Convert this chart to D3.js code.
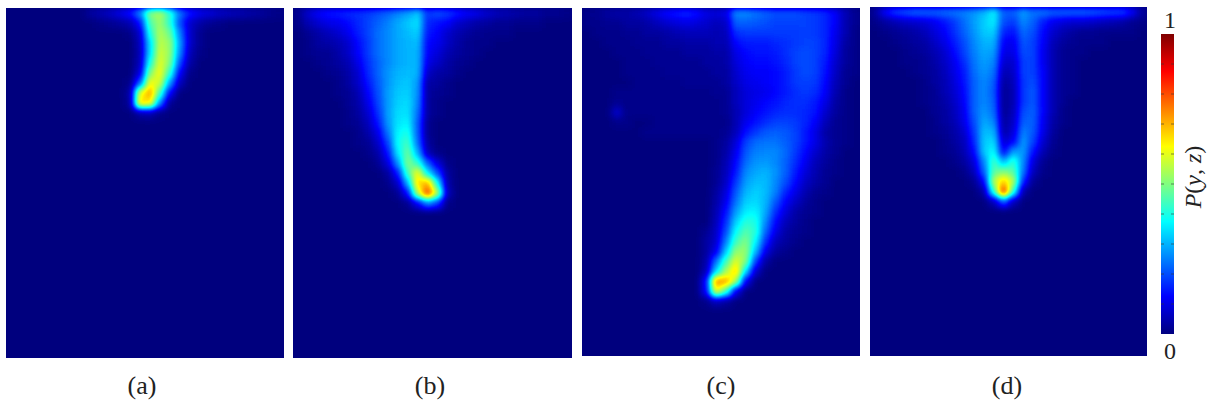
<!DOCTYPE html>
<html>
<head>
<meta charset="utf-8">
<script src="https://cdn.jsdelivr.net/npm/d3@7"></script>
<style>
  html, body { margin: 0; background: #fff; }
  svg { display: block; }
  text { font-family: "Liberation Serif", serif; fill: #222; }
</style>
</head>
<body>
<div id="chart"></div>
<script>
// P(y,z) x 100, read per 10px cell from the picture. rows run top down, missing trailing cells/rows are 0
const panelA = [
  [0,0,0,0,0,0,0,0,3,5,7,10,14,26,50,54,42,24,15,11,9,7,6,5,4,3,2,1],
  [0,0,0,0,0,0,0,0,0,1,2,3,5,14,45,53,42,20,8,4,2,1],
  [0,0,0,0,0,0,0,0,0,0,0,0,1,8,40,55,48,25,8,2],
  [0,0,0,0,0,0,0,0,0,0,0,0,0,6,34,56,52,28,8,2],
  [0,0,0,0,0,0,0,0,0,0,0,0,0,5,34,58,52,26,6,1],
  [0,0,0,0,0,0,0,0,0,0,0,0,0,6,40,60,50,20,4],
  [0,0,0,0,0,0,0,0,0,0,0,0,0,9,50,62,42,12,1],
  [0,0,0,0,0,0,0,0,0,0,0,0,1,22,62,58,28,6],
  [0,0,0,0,0,0,0,0,0,0,0,0,4,60,72,44,12],
  [0,0,0,0,0,0,0,0,0,0,0,0,3,66,64,26,2],
  [0,0,0,0,0,0,0,0,0,0,0,0,0,4,5,1]
];
const panelB = [
  [2,8,12,14,15,16,17,18,20,22,25,28,32,18,20,18,15,12,10,8,6,5,4,3,3,2,2,1],
  [1,5,8,10,11,13,16,19,22,25,29,32,35,16,14,12,8,6,4,3,2,2,1,1,1],
  [0,2,4,6,8,11,15,19,23,26,29,31,33,15,12,8,5,3,2,1,1,1],
  [0,1,3,4,5,8,13,18,23,26,29,30,31,13,11,7,4,2,1,1],
  [0,1,2,2,4,7,12,18,23,26,29,30,30,12,9,5,3,2,1],
  [0,0,1,2,3,5,10,17,22,26,29,30,30,10,7,4,2,1],
  [0,0,0,1,2,4,8,16,22,27,30,31,30,7,4,3,1],
  [0,0,0,0,1,3,7,14,21,27,31,32,28,4,3,1],
  [0,0,0,0,1,2,5,12,20,28,32,33,27,3,2,1],
  [0,0,0,0,0,2,4,10,19,28,33,34,26,3,1],
  [0,0,0,0,0,1,3,8,17,28,34,35,24,3,1],
  [0,0,0,0,0,1,2,6,14,27,35,37,22,2],
  [0,0,0,0,0,0,1,4,10,24,37,40,22,2],
  [0,0,0,0,0,0,1,2,7,19,38,44,24,3],
  [0,0,0,0,0,0,0,1,4,14,35,48,30,6,1],
  [0,0,0,0,0,0,0,0,2,9,27,50,42,22,9,1],
  [0,0,0,0,0,0,0,0,0,3,15,44,62,36,20,3],
  [0,0,0,0,0,0,0,0,0,1,7,30,66,70,38,4],
  [0,0,0,0,0,0,0,0,0,0,2,14,56,82,55,6],
  [0,0,0,0,0,0,0,0,0,0,0,2,12,26,18,1]
];
const panelC = [
  [1,2,3,4,4,5,7,10,13,15,16,14,10,9,10,26,26,24,22,20,20,20,19,18,16,12,6,2],
  [1,1,2,2,3,3,4,6,8,9,10,9,8,6,7,22,22,21,20,19,19,19,19,18,16,12,5,2],
  [0,1,1,1,2,2,3,3,4,5,6,6,6,5,6,17,18,18,18,18,18,18,19,18,16,11,5,1],
  [0,0,1,1,1,2,2,2,3,3,4,4,4,5,5,13,15,15,15,16,17,18,19,19,16,10,4,1],
  [0,0,0,1,1,1,2,2,2,2,3,3,3,4,4,10,13,14,14,15,17,19,20,19,16,9,3,1],
  [0,0,0,0,1,1,1,2,2,2,2,2,3,3,4,9,12,13,13,14,16,19,20,19,15,8,3,1],
  [0,0,0,0,1,1,1,1,2,2,2,2,2,3,3,8,11,12,12,13,15,18,20,19,14,7,2,1],
  [0,0,0,0,0,1,1,1,1,1,2,2,2,2,3,7,10,11,12,13,15,18,19,18,13,6,2],
  [0,0,0,1,1,1,1,1,1,1,1,1,1,2,2,6,9,10,11,13,15,17,18,17,12,5,1],
  [0,0,0,2,1,1,1,1,1,1,1,1,1,1,2,6,9,11,13,14,16,17,17,15,10,4,1],
  [0,0,0,8,1,1,1,1,1,1,1,1,1,1,2,5,9,12,14,16,17,17,16,14,8,3,1],
  [0,0,0,1,1,0,0,1,1,1,1,1,1,1,1,5,11,14,17,19,19,18,16,12,6,2,1],
  [0,0,0,0,0,0,1,1,1,1,1,1,1,1,2,6,14,18,21,22,21,19,15,10,4,2,1],
  [0,0,0,0,0,0,0,0,0,0,0,0,0,1,3,9,19,23,24,24,22,19,15,10,5,2,1],
  [0,0,0,0,0,0,0,0,0,0,0,0,0,1,4,11,21,25,26,26,23,18,13,8,4,2],
  [0,0,0,0,0,0,0,0,0,0,0,0,0,1,5,13,23,27,28,26,22,17,11,6,3,1],
  [0,0,0,0,0,0,0,0,0,0,0,0,0,2,6,15,26,29,30,27,22,15,9,5,2,1],
  [0,0,0,0,0,0,0,0,0,0,0,0,0,2,7,18,28,31,31,26,20,13,7,4,2],
  [0,0,0,0,0,0,0,0,0,0,0,0,0,3,9,21,30,33,31,25,16,10,5,2,1],
  [0,0,0,0,0,0,0,0,0,0,0,0,0,4,11,24,33,34,30,21,12,7,3,1],
  [0,0,0,0,0,0,0,0,0,0,0,0,0,5,14,28,36,37,29,17,9,4,2,1],
  [0,0,0,0,0,0,0,0,0,0,0,0,0,6,17,33,41,40,26,13,6,3,1],
  [0,0,0,0,0,0,0,0,0,0,0,0,2,7,20,38,46,41,22,10,4,2,1],
  [0,0,0,0,0,0,0,0,0,0,0,0,3,8,25,44,50,37,17,6,3,1],
  [0,0,0,0,0,0,0,0,0,0,0,0,3,11,32,52,52,30,10,3,1],
  [0,0,0,0,0,0,0,0,0,0,0,0,4,24,44,60,50,18,3],
  [0,0,0,0,0,0,0,0,0,0,0,0,6,34,54,68,34,7],
  [0,0,0,0,0,0,0,0,0,0,0,0,14,74,72,54,11],
  [0,0,0,0,0,0,0,0,0,0,0,0,13,62,44,10],
  [0,0,0,0,0,0,0,0,0,0,0,0,1,6,3]
];
const panelD = [
  [3,12,18,20,22,22,22,23,24,25,27,30,36,22,22,28,24,24,22,22,22,22,21,20,19,19,12,3],
  [1,3,5,7,8,9,11,14,18,23,28,33,36,20,18,26,22,15,11,9,8,8,7,6,5,4,2,1],
  [0,1,2,3,4,6,9,12,17,22,27,32,33,16,14,23,20,13,8,5,3,2,2,1,1,1,1],
  [0,0,1,2,3,4,7,10,15,20,26,30,30,12,11,21,19,12,6,3,2,1,1,1],
  [0,0,0,1,2,3,5,8,13,19,25,29,28,10,10,20,19,11,5,2,1,1],
  [0,0,0,1,1,2,4,7,11,17,24,28,26,8,8,19,19,11,5,2,1],
  [0,0,0,0,1,2,3,6,10,15,23,27,24,5,7,19,19,12,5,2,1],
  [0,0,0,0,0,1,3,5,9,14,22,26,22,3,6,18,20,12,5,2,1],
  [0,0,0,0,0,1,2,5,8,13,22,26,21,2,5,18,21,12,5,2,1],
  [0,0,0,0,0,1,2,4,7,12,22,26,22,2,5,18,21,12,5,2],
  [0,0,0,0,0,0,2,3,6,11,22,27,23,2,6,20,22,12,5,1],
  [0,0,0,0,0,0,1,3,5,10,20,29,26,3,7,22,22,11,4,1],
  [0,0,0,0,0,0,1,2,4,8,18,31,30,4,9,25,21,10,3],
  [0,0,0,0,0,0,0,1,3,6,16,32,34,8,12,28,19,8,2],
  [0,0,0,0,0,0,0,1,2,5,13,32,38,12,28,28,14,5,1],
  [0,0,0,0,0,0,0,0,1,3,9,26,44,30,42,26,9,2],
  [0,0,0,0,0,0,0,0,0,1,6,22,46,50,46,24,6,1],
  [0,0,0,0,0,0,0,0,0,0,2,12,55,68,55,16,2],
  [0,0,0,0,0,0,0,0,0,0,0,4,42,84,42,4],
  [0,0,0,0,0,0,0,0,0,0,0,0,6,22,6]
];

const panelNames = ["(a)", "(b)", "(c)", "(d)"];
const panelValues = [panelA, panelB, panelC, panelD];
const panelLeft = [6, 293, 582, 870];
const panelRight = [284, 572, 860, 1147];
const panelTop = [8, 8, 8, 7];
const panelBottom = [358, 358, 356, 356];
const labelX = [142, 430, 721, 1007];

const colorStops = [0, 0.125, 0.25, 0.375, 0.5, 0.625, 0.75, 0.875, 1];
const colorValues = ["#00007f", "#0000ff", "#0080ff", "#00ffff", "#80ff80", "#ffff00", "#ff8000", "#ff0000", "#7f0000"];
const barTicks = [0.1, 0.2, 0.3, 0.4, 0.5, 0.6, 0.7, 0.8, 0.9];

const width = 1213, height = 406;
const nCols = 28, nRows = 35;

const jet = d3.scaleLinear().domain(colorStops).range(colorValues).clamp(true);
const gray = d3.scaleLinear().domain([0, 100]).range(["#000", "#fff"]).clamp(true);

const svg = d3.select("#chart").append("svg").attr("width", width).attr("height", height);
const defs = svg.append("defs");

// cells are drawn as gray, blurred, then gray is mapped onto the colormap so the blend stays on the jet ramp
const table = d3.range(256).map(i => d3.rgb(jet(i / 255)));
const filter = defs.append("filter").attr("id", "smooth")
  .attr("filterUnits", "userSpaceOnUse").attr("x", 0).attr("y", 0).attr("width", width).attr("height", height)
  .attr("color-interpolation-filters", "sRGB");
filter.append("feGaussianBlur").attr("stdDeviation", 3.5);
const transfer = filter.append("feComponentTransfer");
["r", "g", "b"].forEach(c => {
  transfer.append("feFunc" + c.toUpperCase()).attr("type", "table")
    .attr("tableValues", table.map(d => (d[c] / 255).toFixed(3)).join(" "));
});

panelValues.forEach((rows, p) => {
  const x = d3.scaleBand().domain(d3.range(nCols)).range([panelLeft[p], panelRight[p]]);
  const y = d3.scaleBand().domain(d3.range(nRows)).range([panelTop[p], panelBottom[p]]);

  defs.append("clipPath").attr("id", "clip" + p).append("rect")
    .attr("x", panelLeft[p]).attr("y", panelTop[p])
    .attr("width", panelRight[p] - panelLeft[p]).attr("height", panelBottom[p] - panelTop[p]);

  const group = svg.append("g").attr("clip-path", `url(#clip${p})`).append("g").attr("filter", "url(#smooth)");

  group.append("rect")
    .attr("x", panelLeft[p] - 20).attr("y", panelTop[p] - 20)
    .attr("width", panelRight[p] - panelLeft[p] + 40).attr("height", panelBottom[p] - panelTop[p] + 40)
    .attr("fill", gray(0));

  const cells = [];
  rows.forEach((row, j) => row.forEach((v, i) => { if (v > 0) cells.push({ i, j, v }); }));

  group.selectAll("rect.cell").data(cells).enter().append("rect")
    .attr("class", "cell")
    .attr("x", d => x(d.i))
    .attr("y", d => y(d.j))
    .attr("width", x.bandwidth() + 0.5)
    .attr("height", y.bandwidth() + 0.5)
    .attr("fill", d => gray(d.v));

  svg.append("text")
    .attr("x", labelX[p])
    .attr("y", 394)
    .attr("text-anchor", "middle")
    .style("font-size", "26px")
    .text(panelNames[p]);
});

// colorbar
const barLeft = 1161, barWidth = 13;
const barY = d3.scaleLinear().domain([0, 1]).range([334, 34]);

const gradient = defs.append("linearGradient").attr("id", "jetbar")
  .attr("x1", 0).attr("y1", 1).attr("x2", 0).attr("y2", 0);
colorStops.forEach((s, i) => {
  gradient.append("stop").attr("offset", s).attr("stop-color", colorValues[i]);
});

svg.append("rect")
  .attr("x", barLeft).attr("y", barY(1))
  .attr("width", barWidth).attr("height", barY(0) - barY(1))
  .attr("fill", "url(#jetbar)");

barTicks.forEach(t => {
  [[barLeft, barLeft + 3], [barLeft + barWidth - 3, barLeft + barWidth]].forEach(seg => {
    svg.append("line")
      .attr("x1", seg[0]).attr("x2", seg[1])
      .attr("y1", barY(t)).attr("y2", barY(t))
      .attr("stroke", "#333").attr("stroke-opacity", 0.6);
  });
});

svg.append("text").attr("x", 1170).attr("y", 28).attr("text-anchor", "middle").style("font-size", "24px").text("1");
svg.append("text").attr("x", 1170).attr("y", 359).attr("text-anchor", "middle").style("font-size", "24px").text("0");

const pLabel = svg.append("text")
  .attr("transform", "translate(1201,177) rotate(-90)")
  .attr("text-anchor", "middle")
  .style("font-size", "24px");
pLabel.append("tspan").style("font-style", "italic").text("P");
pLabel.append("tspan").text("(");
pLabel.append("tspan").style("font-style", "italic").text("y");
pLabel.append("tspan").text(", ");
pLabel.append("tspan").style("font-style", "italic").text("z");
pLabel.append("tspan").text(")");
</script>
</body>
</html>
